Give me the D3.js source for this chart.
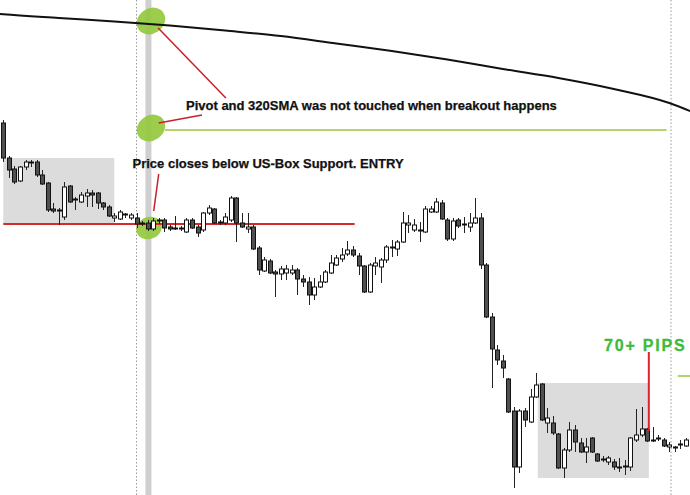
<!DOCTYPE html>
<html><head><meta charset="utf-8">
<script src="https://cdn.jsdelivr.net/npm/d3@7"></script>
<style>html,body{margin:0;padding:0;background:#fff;overflow:hidden}svg{display:block}</style>
</head><body>
<script>
// Candle data (price), index = bar number
const opens = [1.3377,1.3342,1.3331,1.3319,1.3333,1.3337,1.3338,1.3325,1.3317,1.3291,
1.3290,1.3283,1.3314,1.3300,1.3298,1.3304,1.3307,1.3307,1.3297,1.3293,
1.3282,1.3281,1.3286,1.3282,1.3282,1.3277,1.3277,1.3271,1.3279,1.3280,
1.3273,1.3271,1.3271,1.3268,1.3280,1.3273,1.3270,1.3287,1.3291,1.3278,
1.3277,1.3280,1.3302,1.3277,1.3271,1.3273,1.3252,1.3229,1.3239,1.3228,
1.3226,1.3227,1.3227,1.3230,1.3221,1.3218,1.3205,1.3213,1.3218,1.3227,
1.3235,1.3241,1.3246,1.3250,1.3244,1.3234,1.3208,1.3234,1.3233,1.3240,
1.3252,1.3251,1.3258,1.3275,1.3270,1.3270,1.3268,1.3288,1.3288,1.3297,
1.3280,1.3261,1.3280,1.3275,1.3273,1.3277,1.3282,1.3235,1.3183,1.3150,
1.3139,1.3121,1.3089,1.3033,1.3089,1.3078,1.3103,1.3116,1.3077,1.3077,
1.3066,1.3032,1.3050,1.3070,1.3057,1.3048,1.3062,1.3046,1.3041,1.3038,
1.3038,1.3033,1.3033,1.3033,1.3060,1.3065,1.3071,1.3060,1.3062,1.3060,
1.3053,1.3053,1.3056,1.3054];
const highs = [1.3380,1.3344,1.3334,1.3334,1.3340,1.3340,1.3340,1.3330,1.3318,1.3297,
1.3292,1.3318,1.3315,1.3303,1.3308,1.3311,1.3310,1.3308,1.3298,1.3295,
1.3287,1.3290,1.3287,1.3287,1.3287,1.3279,1.3280,1.3282,1.3282,1.3282,
1.3275,1.3284,1.3274,1.3282,1.3282,1.3275,1.3288,1.3295,1.3292,1.3280,
1.3287,1.3304,1.3303,1.3287,1.3287,1.3275,1.3254,1.3243,1.3241,1.3230,
1.3234,1.3235,1.3235,1.3232,1.3225,1.3223,1.3222,1.3225,1.3230,1.3245,
1.3245,1.3252,1.3259,1.3254,1.3247,1.3235,1.3237,1.3243,1.3242,1.3255,
1.3260,1.3260,1.3288,1.3285,1.3281,1.3278,1.3294,1.3294,1.3302,1.3300,
1.3282,1.3282,1.3282,1.3283,1.3287,1.3302,1.3287,1.3237,1.3187,1.3155,
1.3145,1.3122,1.3093,1.3091,1.3092,1.3111,1.3127,1.3117,1.3092,1.3084,
1.3067,1.3052,1.3078,1.3075,1.3062,1.3062,1.3063,1.3047,1.3044,1.3044,
1.3041,1.3042,1.3040,1.3063,1.3091,1.3093,1.3072,1.3073,1.3065,1.3062,
1.3058,1.3054,1.3060,1.3062];
const lows = [1.3338,1.3322,1.3316,1.3318,1.3330,1.3333,1.3323,1.3315,1.3288,1.3287,
1.3275,1.3280,1.3297,1.3290,1.3297,1.3293,1.3293,1.3291,1.3290,1.3283,
1.3278,1.3280,1.3282,1.3280,1.3272,1.3274,1.3269,1.3269,1.3276,1.3268,
1.3269,1.3270,1.3269,1.3267,1.3271,1.3263,1.3268,1.3285,1.3276,1.3275,
1.3275,1.3278,1.3258,1.3272,1.3267,1.3250,1.3225,1.3228,1.3226,1.3203,
1.3220,1.3220,1.3225,1.3205,1.3213,1.3195,1.3200,1.3212,1.3217,1.3226,
1.3234,1.3238,1.3244,1.3243,1.3225,1.3207,1.3207,1.3225,1.3217,1.3237,
1.3243,1.3244,1.3257,1.3267,1.3268,1.3258,1.3267,1.3287,1.3287,1.3280,
1.3259,1.3259,1.3272,1.3267,1.3268,1.3276,1.3231,1.3182,1.3112,1.3135,
1.3122,1.3087,1.3012,1.3027,1.3073,1.3077,1.3102,1.3079,1.3067,1.3065,
1.3031,1.3022,1.3048,1.3048,1.3047,1.3037,1.3047,1.3038,1.3038,1.3035,
1.3030,1.3028,1.3025,1.3029,1.3058,1.3063,1.3058,1.3058,1.3059,1.3053,
1.3048,1.3048,1.3051,1.3053];
const closes = [1.3342,1.3330,1.3318,1.3333,1.3338,1.3338,1.3325,1.3316,1.3290,1.3289,
1.3289,1.3313,1.3298,1.3301,1.3305,1.3307,1.3305,1.3297,1.3293,1.3284,
1.3284,1.3288,1.3285,1.3285,1.3276,1.3276,1.3271,1.3279,1.3280,1.3272,
1.3271,1.3272,1.3272,1.3280,1.3272,1.3267,1.3287,1.3292,1.3277,1.3277,
1.3283,1.3302,1.3277,1.3273,1.3273,1.3251,1.3230,1.3240,1.3227,1.3226,
1.3231,1.3231,1.3230,1.3221,1.3218,1.3205,1.3213,1.3218,1.3228,1.3237,
1.3242,1.3245,1.3250,1.3245,1.3234,1.3208,1.3235,1.3237,1.3240,1.3253,
1.3253,1.3258,1.3277,1.3277,1.3275,1.3269,1.3291,1.3291,1.3298,1.3281,
1.3261,1.3279,1.3274,1.3276,1.3277,1.3282,1.3235,1.3183,1.3151,1.3140,
1.3132,1.3088,1.3033,1.3089,1.3080,1.3103,1.3115,1.3080,1.3082,1.3067,
1.3032,1.3050,1.3070,1.3058,1.3048,1.3053,1.3048,1.3039,1.3040,1.3042,
1.3033,1.3032,1.3034,1.3062,1.3065,1.3071,1.3059,1.3059,1.3061,1.3054,
1.3055,1.3052,1.3055,1.3060];

// 320 SMA (bar index, value)
const smaIdx = [-1,0,10,20,30,40,50,60,70,80,90,100,110,120,125];
const smaVal = [1.34863,1.34858,1.3482,1.34785,1.34745,1.34695,1.3464,1.34565,1.3449,1.34405,1.3431,1.3422,1.3411,1.3397,1.3386];

// Levels / zones
const supportLevel = 1.3276;      // US-Box support (entry line)
const pivotLevel = 1.3370;        // pivot
const pivotLevel2 = 1.3124;       // next pivot at right
const box1 = {i0:0, i1:20, top:1.3342, bottom:1.3276};
const box2 = {i0:96.3, i1:116.3, top:1.3117, bottom:1.3022};
const breakoutBar = 26.15;
const dottedBars = [24.0, 120.3];

const W = 690, H = 495;
const n = opens.length;
const x = d3.scaleLinear().domain([0, 123]).range([3.3, 686]);
const y = d3.scaleLinear().domain([1.3005, 1.3500]).range([495, 0]);

const svg = d3.select("body").append("svg").attr("width", W).attr("height", H);
svg.append("rect").attr("width", W).attr("height", H).attr("fill", "#fff");

// boxes
[box1, box2].forEach(b => {
  svg.append("rect")
    .attr("x", x(b.i0)).attr("y", y(b.top))
    .attr("width", x(b.i1) - x(b.i0)).attr("height", y(b.bottom) - y(b.top))
    .attr("fill", "#dcdcdc");
});

// vertical markers
svg.append("rect").attr("x", x(breakoutBar) - 3).attr("y", 0).attr("width", 6).attr("height", H).attr("fill", "#cfcfcf");
dottedBars.forEach(b => {
  svg.append("line").attr("x1", x(b)).attr("x2", x(b)).attr("y1", 0).attr("y2", H)
    .attr("stroke", "#9a9a9a").attr("stroke-width", 1).attr("stroke-dasharray", "1.5,2");
});

// green ellipses
const ellipses = [
  {i: 26.6, p: 1.3479, rot: -35},
  {i: 26.6, p: 1.3372, rot: -35},
  {i: 26.25, p: 1.3272, rot: -20}
];
ellipses.forEach((e, k) => {
  svg.append("ellipse")
    .attr("transform", `translate(${x(e.i)},${y(e.p)}) rotate(${e.rot})`)
    .attr("rx", k === 2 ? 13 : 15).attr("ry", k === 2 ? 11 : 12.5)
    .attr("fill", "#95c93d").attr("opacity", 0.92);
});

// pivot lines
svg.append("line").attr("x1", x(29.1)).attr("x2", x(119.5)).attr("y1", y(pivotLevel)).attr("y2", y(pivotLevel))
  .attr("stroke", "#9dc53e").attr("stroke-width", 1.5);
svg.append("line").attr("x1", x(121.5)).attr("x2", W).attr("y1", y(pivotLevel2)).attr("y2", y(pivotLevel2))
  .attr("stroke", "#9dc53e").attr("stroke-width", 1.5);

// support line
svg.append("line").attr("x1", x(0)).attr("x2", x(63.3)).attr("y1", y(supportLevel)).attr("y2", y(supportLevel))
  .attr("stroke", "#d42a2a").attr("stroke-width", 2);

// SMA
const sma = smaIdx.map((d, k) => [d, smaVal[k]]);
svg.append("path").datum(sma)
  .attr("d", d3.line().x(d => x(d[0])).y(d => y(d[1])).curve(d3.curveMonotoneX))
  .attr("fill", "none").attr("stroke", "#111").attr("stroke-width", 2);

// candles
const bars = d3.range(n).map(i => ({i, o: opens[i], h: highs[i], l: lows[i], c: closes[i]}));
const g = svg.append("g");
g.selectAll("line.wick").data(bars).join("line").attr("class", "wick")
  .attr("x1", d => Math.round(x(d.i)) + 0.5).attr("x2", d => Math.round(x(d.i)) + 0.5)
  .attr("y1", d => y(d.h)).attr("y2", d => y(d.l))
  .attr("stroke", "#222").attr("stroke-width", 1);
g.selectAll("rect.body").data(bars).join("rect").attr("class", "body")
  .attr("x", d => Math.round(x(d.i)) - 1.5).attr("width", 4)
  .attr("y", d => y(Math.max(d.o, d.c)))
  .attr("height", d => Math.max(1, Math.abs(y(d.o) - y(d.c))))
  .attr("fill", d => d.c >= d.o ? "#fff" : "#505050")
  .attr("stroke", "#111").attr("stroke-width", 1);

// annotation pointers
const red = "#c8202a";
svg.append("line").attr("x1", x(27.9)).attr("y1", y(1.3472)).attr("x2", x(40.1)).attr("y2", y(1.3402))
  .attr("stroke", red).attr("stroke-width", 1.5);
svg.append("line").attr("x1", x(28.0)).attr("y1", y(1.3377)).attr("x2", x(35.8)).attr("y2", y(1.3385))
  .attr("stroke", red).attr("stroke-width", 1.5);
svg.append("line").attr("x1", x(27.1)).attr("y1", y(1.3289)).attr("x2", x(28.0)).attr("y2", y(1.3326))
  .attr("stroke", red).attr("stroke-width", 1.5);
svg.append("line").attr("x1", x(116.3)).attr("y1", y(1.3148)).attr("x2", x(116.3)).attr("y2", y(1.3069))
  .attr("stroke", "#e0202a").attr("stroke-width", 2);

// texts
const font = "Liberation Sans, Arial, sans-serif";
svg.append("text").attr("x", 186).attr("y", 109.5)
  .attr("font-family", font).attr("font-weight", "bold").attr("font-size", 13)
  .attr("stroke", "#111").attr("stroke-width", 0.25)
  .attr("fill", "#111").text("Pivot and 320SMA was not touched when breakout happens");
svg.append("text").attr("x", 132.5).attr("y", 167.5)
  .attr("font-family", font).attr("font-weight", "bold").attr("font-size", 13)
  .attr("stroke", "#111").attr("stroke-width", 0.25)
  .attr("fill", "#111").text("Price closes below US-Box Support. ENTRY");
svg.append("text").attr("x", 604).attr("y", 351)
  .attr("font-family", font).attr("font-weight", "bold").attr("font-size", 16)
  .attr("letter-spacing", "1.8px").attr("stroke", "#3dbb3d").attr("stroke-width", 0.3)
  .attr("fill", "#3dbb3d").text("70+ PIPS");
</script>
</body></html>
